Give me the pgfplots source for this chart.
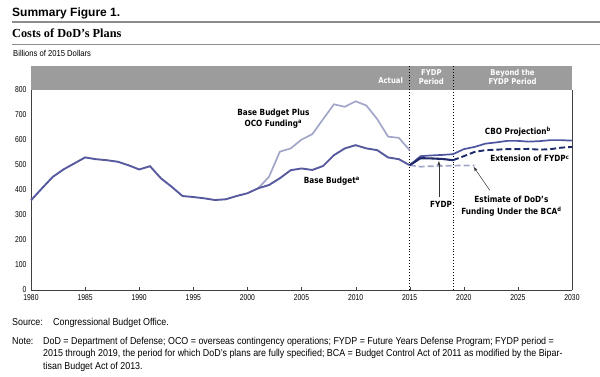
\documentclass[border=0pt]{standalone}
\usepackage{fontspec}
\setmainfont{Liberation Sans}
\newfontfamily\narrowfont[FakeStretch=0.89]{Liberation Sans}
\newfontfamily\tickfont[FakeStretch=0.8]{Liberation Sans}
\newfontfamily\labfont[FakeStretch=0.86]{DejaVu Sans}
\newfontfamily\serifb{Liberation Serif}
\usepackage{pgfplots}
\pgfplotsset{compat=1.18}
\definecolor{basec}{HTML}{575A9E}
\definecolor{ococ}{HTML}{A2A6C8}
\definecolor{navy}{HTML}{1F2A6A}
\definecolor{cboc}{HTML}{4E55A0}
\definecolor{bandc}{HTML}{9C9C9C}
\definecolor{rulec}{HTML}{8C8C8C}
\begin{document}
\begin{tikzpicture}[x=1pt,y=1pt]
\useasboundingbox (0,0) rectangle (600,-376);
% title block
\node[anchor=base west,inner sep=0] at (12,-16.5) {\fontsize{12}{14}\selectfont\bfseries Summary Figure 1.};
\draw[rulec,line width=1.6pt] (12,-22) -- (600,-22);
\node[anchor=base west,inner sep=0] at (12,-37.5) {\serifb\fontsize{12.3}{15}\selectfont\bfseries Costs of DoD’s Plans};
\draw[rulec,line width=0.8pt] (12,-44) -- (600,-44);
\node[anchor=base west,inner sep=0] at (13,-56) {\narrowfont\fontsize{8.6}{10}\selectfont Billions of 2015 Dollars};
\begin{axis}[
  at={(31pt,-290pt)}, anchor=south west,
  scale only axis, width=541pt, height=224.3pt,
  xmin=1980, xmax=2030, ymin=0, ymax=895,
  axis x line*=bottom, axis y line*=left,
  axis line style={black!75, line width=0.6pt},
  xtick={1980,1985,...,2030}, ytick={0,100,...,800},
  x tick label style={/pgf/number format/1000 sep={}},
  xtick align=inside, ytick style={draw=none},
  major tick length=3pt, xtick style={black!75},
  tick label style={font=\tickfont\fontsize{8.5}{10}\selectfont},
  /pgf/number format/assume math mode=true,
  xticklabel style={yshift=-1.5pt},
  yticklabel style={xshift=-1pt},
  clip=false,
]
% header band
\fill[bandc] (axis cs:1980,800) rectangle (axis cs:2030,895);
\draw[black!75,line width=0.6pt] (axis cs:2030,0) -- (axis cs:2030,800);
\draw[black,dotted,line width=0.9pt] (axis cs:2015,0) -- (axis cs:2015,895);
\draw[black,dotted,line width=0.9pt] (axis cs:2019,0) -- (axis cs:2019,895);
\node[anchor=east,text=white,font=\labfont\bfseries\fontsize{8}{9.5}\selectfont] at (axis cs:2014.7,835) {Actual};
\node[align=center,text=white,font=\labfont\bfseries\fontsize{8}{9.5}\selectfont] at (axis cs:2017,850) {FYDP\\[-1pt]Period};
\node[align=center,text=white,font=\labfont\bfseries\fontsize{8}{9.5}\selectfont] at (axis cs:2024.5,850) {Beyond the\\[-1pt]FYDP Period};
% OCO
\addplot[ococ,line width=1.7pt] coordinates {
(2001,406)(2002,452)(2003,552)(2004,565)(2005,600)(2006,622)(2007,682)(2008,741)(2009,731)(2010,753)(2011,736)(2012,682)(2013,612)(2014,607)(2015,558)};
% BCA estimate
\addplot[ococ,line width=1.7pt,dash pattern=on 6pt off 3pt] coordinates {
(2015,498)(2016,492)(2017,494)(2018,495)(2019,496)(2020,497)(2021,497)};
% Base budget
\addplot[basec,line width=1.9pt] coordinates {
(1980,358)(1981,405)(1982,451)(1983,481)(1984,505)(1985,529)(1986,522)(1987,518)(1988,512)(1989,498)(1990,481)(1991,494)(1992,446)(1993,412)(1994,375)(1995,371)(1996,366)(1997,359)(1998,362)(1999,375)(2000,386)(2001,406)(2002,419)(2003,446)(2004,478)(2005,485)(2006,479)(2007,495)(2008,538)(2009,565)(2010,578)(2011,565)(2012,558)(2013,529)(2014,522)(2015,498)};
% CBO projection
\addplot[cboc,line width=1.7pt] coordinates {
(2015,498)(2016,534)(2017,537)(2018,539)(2019,542)(2020,562)(2021,571)(2022,584)(2023,589)(2024,595)(2025,595)(2026,592)(2027,594)(2028,598)(2029,598)(2030,596)};
% FYDP
\addplot[navy,line width=2.1pt] coordinates {
(2015,498)(2016,526)(2017,525)(2018,523)(2019,518)};
% Extension of FYDP
\addplot[navy,line width=1.9pt,dash pattern=on 6pt off 3pt] coordinates {
(2019,518)(2020,534)(2021,551)(2022,558)(2023,560)(2024,562)(2025,562)(2026,563)(2027,560)(2028,562)(2029,568)(2030,571)};
% labels
\tikzset{lab/.style={font=\labfont\bfseries\fontsize{8.5}{10}\selectfont,align=center,inner sep=0}}
\node[lab] at (axis cs:2002.4,684) {Base Budget Plus\\[1.5pt]OCO Funding\textsuperscript{a}};
\node[lab] at (axis cs:2007.8,436) {Base Budget\textsuperscript{a}};
\node[lab] at (axis cs:2025.0,632) {CBO Projection\textsuperscript{b}};
\node[lab] at (axis cs:2026.1,524) {Extension of FYDP\textsuperscript{c}};
\node[lab] at (axis cs:2017.9,340) {FYDP};
\node[lab] at (axis cs:2024.4,334) {Estimate of DoD’s\\[1.5pt]Funding Under the BCA\textsuperscript{d}};
\draw[-latex,black!80,line width=0.5pt] (axis cs:2017.7,372) -- (axis cs:2017.7,516);
\draw[-latex,black!80,line width=0.5pt] (axis cs:2022.4,398) -- (axis cs:2020.9,492);
\end{axis}
% notes
\begin{scope}[every node/.style={anchor=base west,inner sep=0,font=\narrowfont\fontsize{10}{12}\selectfont}]
\node at (12,-325) {Source:};
\node at (53,-325) {Congressional Budget Office.};
\node at (12,-344) {Note:};
\node at (43,-344) {DoD = Department of Defense; OCO = overseas contingency operations; FYDP = Future Years Defense Program; FYDP period =};
\node at (43,-356.5) {2015 through 2019, the period for which DoD’s plans are fully specified; BCA = Budget Control Act of 2011 as modified by the Bipar-};
\node at (43,-369) {tisan Budget Act of 2013.};
\end{scope}
\end{tikzpicture}
\end{document}
